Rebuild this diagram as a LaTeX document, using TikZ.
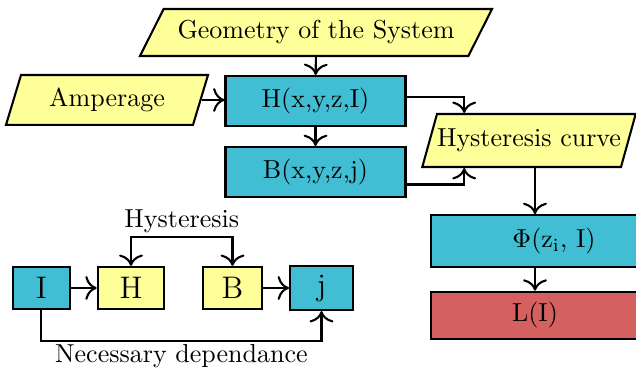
\documentclass[tikz,border=0pt]{standalone}
\usepackage{amsmath}
\usepackage{tikz}
\usetikzlibrary{arrows.meta,positioning,shapes.geometric,calc}

\definecolor{boxcyan}{RGB}{66,190,212}
\definecolor{boxyellow}{RGB}{255,255,153}
\definecolor{boxred}{RGB}{212,96,96}

\begin{document}
\begin{tikzpicture}[
    x=0.3846pt, y=-0.3846pt,
    every node/.style={font=\normalsize, align=center},
    conn/.style={draw=black, -{To[scale=1.3]}, thick},
    given/.style={trapezium, trapezium left angle=70, trapezium right angle=110, trapezium stretches body, draw=black, thick, fill=boxyellow},
    field/.style={rectangle, draw=black, thick, fill=boxcyan, minimum width=69.2pt, minimum height=19.2pt},
    result/.style={rectangle, draw=black, thick, fill=boxred},
    letter/.style={rectangle, draw=black, thick, minimum height=16.2pt, font=\large},
    tag/.style={inner sep=1pt}
]
\useasboundingbox (0,0) rectangle (636,368);

% inputs and fields
\node [given, trapezium left angle=60, trapezium right angle=120, minimum width=135.4pt, minimum height=18.1pt] (geom) at (316,32.5) {Geometry of the System};
\node [given, minimum width=77.7pt, minimum height=19.2pt] (amp) at (107,100) {Amperage};
\node [field] (Hxyz) at (315.5,101) {H(x,y,z,I)};
\node [field] (Bxyz) at (315.5,172) {B(x,y,z,j)};
\node [given, inner xsep=0pt, minimum height=20.4pt] (hyst) at (529,140.5) {Hysteresis curve};
\node [field, minimum width=94.6pt, minimum height=19.9pt] (phi) at (554,241) {$\Phi(\mathrm{z}_{\mathrm{i}}$, I)};
\node [result, minimum width=80pt, minimum height=18.3pt] (lind) at (535,315.5) {L(I)};
\coordinate (hystin) at ($(hyst.top left corner)+(28,0)$);

\draw [conn] (geom) -- (Hxyz);
\draw [conn] (amp.east) -- (amp.east -| Hxyz.west);
\draw [conn] (Hxyz) -- (Bxyz);
\draw [conn] ([yshift=1.7pt]Hxyz.east) -| (hystin);
\draw [conn] ([yshift=-4.8pt]Bxyz.east) -| (hystin |- hyst.south);
\draw [conn] (lind |- hyst.south) -- (lind |- phi.north);
\draw [conn] (lind |- phi.south) -- (lind);

% dependance chain
\node [letter, fill=boxcyan, minimum width=21.9pt] (I) at (41.3,288) {I};
\node [letter, fill=boxyellow, minimum width=25.6pt] (H) at (131,288) {H};
\node [letter, fill=boxyellow, minimum width=22.7pt] (B) at (232.5,288) {B};
\node [letter, fill=boxcyan, minimum width=24.2pt] (j) at (321.5,288) {j};

\draw [conn] (I) -- (H);
\draw [conn] (B) -- (j);
\draw [conn, {To[scale=1.3]}-{To[scale=1.3]}] (H.north) -- ++(0,-29) -| node [tag, pos=0.25, above] {Hysteresis} (B.north);
\draw [conn] (I.south) -- ++(0,31) -| node [tag, pos=0.25, below] {Necessary dependance} (j.south);
\end{tikzpicture}
\end{document}
